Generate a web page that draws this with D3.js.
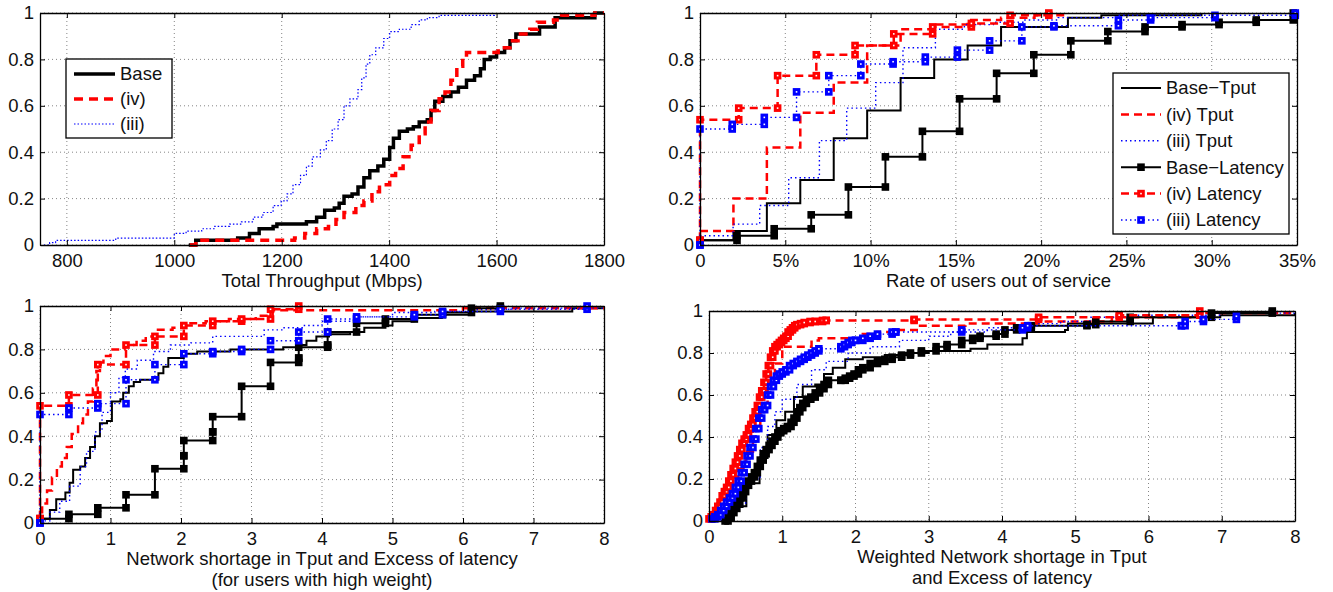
<!DOCTYPE html>
<html>
<head>
<meta charset="utf-8">
<script src="https://cdn.jsdelivr.net/npm/d3@7"></script>
<style>
  body { margin: 0; background: #fff; }
  svg { font-family: "Liberation Sans", Arial, Helvetica, sans-serif; }
</style>
</head>
<body>
<svg id="chart" width="1333" height="592"></svg>
<script>
// ---- shared ----
var yTicks = [0, 0.2, 0.4, 0.6, 0.8, 1];
var yTickLabels = ['0', '0.2', '0.4', '0.6', '0.8', '1'];
var legendNames = ['Base\u2212Tput', '(iv) Tput', '(iii) Tput', 'Base\u2212Latency', '(iv) Latency', '(iii) Latency'];

// ---- panel A: total throughput (Mbps) ----
var thrTicks = [800, 1000, 1200, 1400, 1600, 1800];
var thrNames = ['Base', '(iv)', '(iii)'];
var thrBaseX = [1027, 1040, 1118, 1140, 1158, 1184, 1191, 1246, 1265, 1280, 1298, 1307, 1316, 1331, 1342, 1353, 1364, 1379, 1390, 1401, 1408, 1419, 1434, 1445, 1456, 1471, 1478, 1485, 1500, 1515, 1529, 1544, 1559, 1570, 1577, 1588, 1600, 1615, 1625, 1636, 1680, 1709, 1783, 1800];
var thrBaseY = [0, 0.02, 0.03, 0.05, 0.07, 0.08, 0.09, 0.10, 0.12, 0.15, 0.16, 0.18, 0.21, 0.22, 0.25, 0.29, 0.32, 0.34, 0.37, 0.42, 0.46, 0.49, 0.50, 0.51, 0.53, 0.54, 0.58, 0.62, 0.64, 0.66, 0.68, 0.71, 0.73, 0.76, 0.80, 0.81, 0.83, 0.85, 0.88, 0.91, 0.94, 0.98, 1.0, 1.0];
var thrIvX = [1029, 1040, 1224, 1243, 1265, 1287, 1301, 1316, 1338, 1353, 1368, 1382, 1401, 1412, 1426, 1441, 1456, 1467, 1478, 1493, 1504, 1515, 1526, 1537, 1544, 1603, 1625, 1640, 1662, 1676, 1706, 1721, 1783, 1800];
var thrIvY = [0, 0.02, 0.03, 0.05, 0.07, 0.08, 0.11, 0.14, 0.17, 0.19, 0.23, 0.26, 0.30, 0.33, 0.38, 0.43, 0.48, 0.53, 0.58, 0.63, 0.66, 0.71, 0.77, 0.81, 0.83, 0.85, 0.88, 0.91, 0.93, 0.96, 0.97, 0.99, 1.0, 1.0];
var thrIiiX = [757, 768, 779, 891, 1000, 1022, 1051, 1074, 1103, 1125, 1147, 1165, 1184, 1199, 1210, 1221, 1235, 1246, 1257, 1272, 1283, 1294, 1305, 1316, 1327, 1342, 1349, 1357, 1364, 1375, 1390, 1401, 1419, 1441, 1456, 1471, 1493, 1596];
var thrIiiY = [0, 0.01, 0.02, 0.03, 0.05, 0.06, 0.07, 0.08, 0.09, 0.10, 0.12, 0.14, 0.17, 0.19, 0.22, 0.26, 0.30, 0.34, 0.38, 0.41, 0.45, 0.50, 0.54, 0.60, 0.63, 0.67, 0.72, 0.78, 0.82, 0.85, 0.89, 0.92, 0.93, 0.95, 0.97, 0.98, 0.99, 1.0];

// ---- panel B: rate of users out of service (%) ----
var rateTicks = [0, 5, 10, 15, 20, 25, 30, 35];
var rateTickLabels = ['0', '5%', '10%', '15%', '20%', '25%', '30%', '35%'];
var rateBaseTputX = [0, 1.96, 3.92, 5.88, 7.84, 9.80, 11.76, 13.73, 15.69, 17.65, 21.57, 23.53, 29.4];
var rateBaseTputY = [0.02, 0.06, 0.18, 0.28, 0.46, 0.58, 0.72, 0.80, 0.86, 0.94, 0.98, 0.99, 1.0];
var rateIvTputX = [0, 1.96, 3.92, 5.88, 7.84, 9.80, 11.76, 13.73, 15.69, 17.65, 19.61, 21.57];
var rateIvTputY = [0.06, 0.20, 0.42, 0.57, 0.70, 0.86, 0.93, 0.95, 0.97, 0.98, 0.99, 1.0];
var rateIiiTputX = [0, 1.94, 3.5, 5.2, 7.0, 8.6, 10.3, 11.9, 13.8, 15.5, 17.2, 19.0, 21.0, 24.5, 30.0];
var rateIiiTputY = [0.04, 0.09, 0.17, 0.29, 0.45, 0.59, 0.70, 0.85, 0.93, 0.95, 0.96, 0.97, 0.98, 0.99, 1.0];
var rateBaseLatX = [0, 2.17, 4.35, 6.52, 8.70, 10.87, 13.04, 15.22, 17.39, 19.57, 21.74, 23.91, 26.09, 28.26, 30.43, 32.61, 34.78];
var rateBaseLatY = [0.02, 0.04, 0.07, 0.13, 0.25, 0.38, 0.49, 0.63, 0.74, 0.82, 0.88, 0.92, 0.94, 0.95, 0.96, 0.97, 1.0];
var rateIvLatX = [0, 0, 2.27, 4.55, 6.82, 9.09, 11.36, 13.64, 15.91, 18.18, 20.45];
var rateIvLatY = [0.02, 0.54, 0.59, 0.73, 0.82, 0.86, 0.91, 0.94, 0.955, 0.99, 1.0];
var rateIiiLatX = [0, 0, 1.89, 3.77, 5.66, 7.55, 9.43, 11.32, 13.21, 15.09, 16.98, 18.87, 20.75, 24.53, 26.42, 30.19, 34.9];
var rateIiiLatY = [0, 0.50, 0.52, 0.55, 0.66, 0.73, 0.78, 0.79, 0.81, 0.84, 0.88, 0.94, 0.945, 0.97, 0.98, 0.99, 1.0];

// ---- panel C: network shortage, high-weight users ----
var shortTicks = [0, 1, 2, 3, 4, 5, 6, 7, 8];
var hwBaseTputX = [0, 0.14, 0.23, 0.36, 0.42, 0.47, 0.57, 0.64, 0.71, 0.78, 0.85, 0.95, 1.02, 1.14, 1.18, 1.26, 1.33, 1.42, 1.68, 1.75, 1.82, 1.94, 2.04, 2.23, 2.7, 3.45, 3.64, 3.78, 3.92, 4.1, 4.4, 4.6, 4.9, 5.0, 5.3, 5.7, 6.1, 7.55, 8];
var hwBaseTputY = [0.02, 0.06, 0.11, 0.14, 0.185, 0.245, 0.26, 0.30, 0.35, 0.40, 0.46, 0.47, 0.56, 0.57, 0.60, 0.63, 0.65, 0.66, 0.69, 0.72, 0.76, 0.76, 0.78, 0.79, 0.80, 0.81, 0.82, 0.84, 0.86, 0.87, 0.88, 0.90, 0.91, 0.93, 0.945, 0.96, 0.975, 0.99, 0.99];
var hwIvTputX = [0, 0.03, 0.1, 0.17, 0.24, 0.31, 0.38, 0.45, 0.54, 0.61, 0.68, 0.75, 0.8, 0.85, 0.9, 1.0, 1.2, 1.37, 1.5, 1.64, 1.88, 2.07, 2.35, 2.68, 3.06, 3.3, 6.0, 8];
var hwIvTputY = [0.05, 0.09, 0.15, 0.21, 0.26, 0.30, 0.35, 0.41, 0.46, 0.50, 0.56, 0.62, 0.70, 0.74, 0.77, 0.80, 0.82, 0.84, 0.86, 0.89, 0.90, 0.92, 0.93, 0.94, 0.955, 0.98, 0.99, 0.99];
var hwIiiTputX = [0, 0.14, 0.28, 0.42, 0.57, 0.66, 0.78, 0.88, 1.0, 1.12, 1.21, 1.38, 1.61, 1.85, 2.14, 2.45, 3.18, 3.45, 3.74, 4.0, 4.5, 5.0, 5.6, 6.1, 6.7, 8];
var hwIiiTputY = [0.01, 0.05, 0.10, 0.17, 0.26, 0.33, 0.42, 0.51, 0.60, 0.67, 0.71, 0.75, 0.79, 0.82, 0.83, 0.86, 0.89, 0.90, 0.91, 0.93, 0.95, 0.97, 0.975, 0.985, 0.99, 0.99];
var hwBaseLatX = [0, 0.41, 0.82, 1.22, 1.63, 2.04, 2.04, 2.45, 2.45, 2.86, 3.27, 3.67, 3.67, 4.08, 4.08, 4.49, 4.9, 5.31, 5.71, 6.12, 6.53];
var hwBaseLatY = [0.02, 0.04, 0.07, 0.13, 0.25, 0.31, 0.38, 0.42, 0.49, 0.63, 0.74, 0.76, 0.81, 0.82, 0.88, 0.92, 0.94, 0.96, 0.97, 0.99, 1.0];
var hwIvLatX = [0, 0, 0.41, 0.82, 1.22, 1.63, 2.04, 2.45, 2.86, 3.27, 3.67];
var hwIvLatY = [0.02, 0.54, 0.59, 0.73, 0.82, 0.86, 0.91, 0.93, 0.94, 0.985, 1.0];
var hwIiiLatX = [0, 0, 0.41, 0.82, 1.22, 1.63, 2.04, 2.45, 2.86, 3.27, 3.67, 4.08, 4.49, 5.31, 5.71, 6.53, 7.76];
var hwIiiLatY = [0, 0.50, 0.53, 0.55, 0.66, 0.73, 0.78, 0.79, 0.80, 0.84, 0.88, 0.94, 0.95, 0.96, 0.975, 0.985, 1.0];

// ---- panel D: weighted network shortage ----
var wBaseTputX = [0.16, 0.34, 0.51, 0.69, 0.8, 0.92, 1.04, 1.16, 1.28, 1.45, 1.57, 1.69, 1.86, 2.1, 2.4, 2.63, 3.0, 3.57, 3.8, 4.28, 4.34, 4.86, 4.9, 6.04, 6.06, 6.98, 8];
var wBaseTputY = [0, 0.07, 0.18, 0.30, 0.41, 0.48, 0.52, 0.59, 0.64, 0.65, 0.70, 0.73, 0.77, 0.78, 0.79, 0.80, 0.81, 0.82, 0.84, 0.87, 0.90, 0.91, 0.94, 0.94, 0.97, 0.98, 0.99];
var wIvTputX = [0, 0.1, 0.2, 0.3, 0.4, 0.5, 0.6, 0.7, 0.8, 0.9, 1.0, 1.4, 1.5, 2.1, 2.3, 2.5, 2.86, 3.5, 4.5, 5.5, 6.7, 8];
var wIvTputY = [0.01, 0.04, 0.10, 0.17, 0.25, 0.33, 0.43, 0.55, 0.65, 0.75, 0.83, 0.86, 0.87, 0.89, 0.90, 0.91, 0.93, 0.94, 0.95, 0.97, 0.99, 0.99];
var wIiiTputX = [0, 0.3, 0.5, 0.7, 0.8, 0.9, 1.0, 1.2, 1.4, 1.6, 1.9, 2.2, 2.6, 3.0, 3.3, 3.8, 4.3, 4.8, 5.2, 5.8, 7.0, 8];
var wIiiTputY = [0, 0.08, 0.20, 0.35, 0.45, 0.52, 0.58, 0.65, 0.72, 0.76, 0.80, 0.83, 0.86, 0.88, 0.90, 0.92, 0.94, 0.95, 0.97, 0.98, 0.99, 0.99];
var wBaseLatX = [0.22, 0.26, 0.3, 0.34, 0.38, 0.42, 0.46, 0.5, 0.54, 0.58, 0.62, 0.66, 0.7, 0.74, 0.78, 0.82, 0.86, 0.9, 0.94, 0.98, 1.02, 1.07, 1.12, 1.16, 1.2, 1.24, 1.28, 1.33, 1.39, 1.45, 1.51, 1.57, 1.63, 1.8, 1.86, 1.92, 1.98, 2.04, 2.1, 2.2, 2.3, 2.4, 2.5, 2.63, 2.75, 2.9, 3.1, 3.25, 3.45, 3.6, 3.7, 3.92, 4.04, 4.2, 4.4, 5.16, 5.28, 5.75, 6.86, 7.69];
var wBaseLatY = [0, 0.02, 0.04, 0.06, 0.08, 0.11, 0.14, 0.17, 0.19, 0.21, 0.23, 0.26, 0.29, 0.32, 0.34, 0.36, 0.38, 0.40, 0.42, 0.43, 0.44, 0.45, 0.47, 0.49, 0.52, 0.54, 0.56, 0.58, 0.59, 0.61, 0.63, 0.65, 0.67, 0.67, 0.68, 0.69, 0.70, 0.72, 0.73, 0.75, 0.76, 0.77, 0.78, 0.79, 0.80, 0.81, 0.83, 0.84, 0.86, 0.87, 0.88, 0.89, 0.91, 0.92, 0.93, 0.935, 0.95, 0.97, 0.99, 1.0];
var wIvLatX = [0, 0.03, 0.06, 0.09, 0.12, 0.15, 0.18, 0.21, 0.24, 0.27, 0.3, 0.33, 0.36, 0.39, 0.42, 0.45, 0.48, 0.51, 0.54, 0.57, 0.6, 0.63, 0.66, 0.69, 0.72, 0.75, 0.78, 0.81, 0.84, 0.87, 0.9, 0.93, 0.96, 0.99, 1.02, 1.05, 1.08, 1.11, 1.14, 1.17, 1.2, 1.25, 1.3, 1.38, 1.45, 1.55, 1.6, 2.8, 4.5, 5.6, 6.7];
var wIvLatY = [0.01, 0.02, 0.03, 0.05, 0.07, 0.09, 0.12, 0.14, 0.16, 0.19, 0.22, 0.25, 0.28, 0.31, 0.34, 0.37, 0.39, 0.41, 0.44, 0.46, 0.49, 0.52, 0.55, 0.59, 0.62, 0.66, 0.70, 0.74, 0.78, 0.81, 0.83, 0.84, 0.85, 0.86, 0.87, 0.88, 0.90, 0.91, 0.92, 0.93, 0.935, 0.94, 0.945, 0.95, 0.95, 0.955, 0.955, 0.96, 0.97, 0.98, 1.0];
var wIiiLatX = [0.04, 0.08, 0.12, 0.16, 0.2, 0.24, 0.28, 0.32, 0.36, 0.4, 0.44, 0.48, 0.52, 0.56, 0.6, 0.64, 0.68, 0.72, 0.76, 0.8, 0.84, 0.88, 0.92, 0.96, 1.0, 1.05, 1.1, 1.15, 1.2, 1.25, 1.3, 1.35, 1.4, 1.45, 1.5, 1.8, 1.85, 1.9, 1.95, 2.0, 2.1, 2.2, 2.3, 2.5, 2.55, 3.45, 4.28, 4.35, 6.45, 6.5, 6.75, 7.2];
var wIiiLatY = [0.01, 0.02, 0.03, 0.05, 0.07, 0.09, 0.11, 0.13, 0.16, 0.19, 0.23, 0.27, 0.31, 0.35, 0.39, 0.44, 0.49, 0.53, 0.55, 0.60, 0.64, 0.67, 0.69, 0.70, 0.71, 0.72, 0.74, 0.75, 0.76, 0.77, 0.78, 0.79, 0.80, 0.81, 0.82, 0.83, 0.84, 0.85, 0.86, 0.86, 0.87, 0.88, 0.89, 0.90, 0.90, 0.91, 0.92, 0.93, 0.93, 0.95, 0.96, 0.975];

var svg = d3.select('#chart');

var styleBase = { color: '#000', width: 2, dash: null };
var styleIv = { color: '#ff0000', width: 2.5, dash: '8,5' };
var styleIii = { color: '#0000ff', width: 1.4, dash: '1.5,3' };

function drawMarker(sel, cx, cy, color) {
    sel.append('rect')
        .attr('x', cx - 2.3).attr('y', cy - 2.3)
        .attr('width', 4.6).attr('height', 4.6)
        .attr('fill', color === '#000' ? '#000' : '#fff')
        .attr('stroke', color)
        .attr('stroke-width', 3);
}

function drawPanel(p) {
    var x = d3.scaleLinear().domain(p.xDomain).range([p.left, p.right]);
    var y = d3.scaleLinear().domain([0, 1]).range([p.bottom, p.top]);
    var g = svg.append('g');

    // dotted grid
    g.append('g').selectAll('line')
        .data(p.xTicks)
        .enter().append('line')
        .attr('x1', function (d) { return x(d); })
        .attr('x2', function (d) { return x(d); })
        .attr('y1', p.top).attr('y2', p.bottom)
        .attr('stroke', '#666').attr('stroke-width', 0.8)
        .attr('stroke-dasharray', '1,3');
    g.append('g').selectAll('line')
        .data(yTicks)
        .enter().append('line')
        .attr('y1', function (d) { return y(d); })
        .attr('y2', function (d) { return y(d); })
        .attr('x1', p.left).attr('x2', p.right)
        .attr('stroke', '#666').attr('stroke-width', 0.8)
        .attr('stroke-dasharray', '1,3');

    // curves (step CDFs)
    var line = d3.line()
        .x(function (d) { return x(d[0]); })
        .y(function (d) { return y(d[1]); })
        .curve(d3.curveStepAfter);

    p.series.forEach(function (s) {
        var pts = d3.zip(s.x, s.y);
        g.append('path')
            .datum(pts)
            .attr('d', line)
            .attr('fill', 'none')
            .attr('stroke', s.style.color)
            .attr('stroke-width', s.style.width)
            .attr('stroke-dasharray', s.style.dash);
        if (s.marker) {
            var mg = g.append('g');
            pts.forEach(function (d, i) {
                if (i > 0) drawMarker(mg, x(d[0]), y(pts[i - 1][1]), s.style.color);
                drawMarker(mg, x(d[0]), y(d[1]), s.style.color);
            });
        }
    });

    // axes
    var xAxis = g.append('g')
        .attr('transform', 'translate(0,' + p.bottom + ')')
        .call(d3.axisBottom(x).tickValues(p.xTicks)
            .tickFormat(function (d, i) { return p.xTickLabels[i]; })
            .tickSizeInner(-5).tickSizeOuter(0).tickPadding(9));
    var yAxis = g.append('g')
        .attr('transform', 'translate(' + p.left + ',0)')
        .call(d3.axisLeft(y).tickValues(yTicks)
            .tickFormat(function (d, i) { return yTickLabels[i]; })
            .tickSizeInner(-5).tickSizeOuter(0).tickPadding(6));
    g.append('g')
        .attr('transform', 'translate(0,' + p.top + ')')
        .call(d3.axisTop(x).tickValues(p.xTicks).tickFormat('').tickSizeInner(-5).tickSizeOuter(0));
    g.append('g')
        .attr('transform', 'translate(' + p.right + ',0)')
        .call(d3.axisRight(y).tickValues(yTicks).tickFormat('').tickSizeInner(-5).tickSizeOuter(0));

    g.selectAll('.domain').attr('stroke', '#000').attr('stroke-width', 1.3);
    g.selectAll('.tick line').attr('stroke', '#000');
    [xAxis, yAxis].forEach(function (a) {
        a.selectAll('text')
            .attr('fill', '#111')
            .style('font-size', '18.5px')
            .style('font-family', '"Liberation Sans", Arial, sans-serif');
    });

    // x label (1 or 2 lines)
    p.xLabel.forEach(function (t, i) {
        g.append('text')
            .attr('x', (p.left + p.right) / 2)
            .attr('y', p.bottom + 42 + i * 21)
            .attr('text-anchor', 'middle')
            .attr('fill', '#111')
            .style('font-size', '18.5px')
            .text(t);
    });

    // legend
    if (p.legend) {
        var L = p.legend;
        var lg = g.append('g');
        lg.append('rect')
            .attr('x', L.x).attr('y', L.y)
            .attr('width', L.w).attr('height', L.h)
            .attr('fill', '#fff').attr('stroke', '#000').attr('stroke-width', 1.3);
        L.items.forEach(function (it, i) {
            var yy = L.y + L.first + i * L.step;
            lg.append('line')
                .attr('x1', L.x + 8).attr('x2', L.x + 8 + L.sample)
                .attr('y1', yy).attr('y2', yy)
                .attr('stroke', it.style.color)
                .attr('stroke-width', it.style.width)
                .attr('stroke-dasharray', it.style.dash);
            if (it.marker) drawMarker(lg, L.x + 8 + L.sample / 2, yy, it.style.color);
            lg.append('text')
                .attr('x', L.x + 8 + L.sample + 5)
                .attr('y', yy)
                .attr('dy', '0.35em')
                .attr('fill', '#111')
                .style('font-size', '18.5px')
                .text(it.name);
        });
    }
}

// ---- top left ----
var thickBase = { color: '#000', width: 3.5, dash: null };
var thickIv = { color: '#ff0000', width: 3.5, dash: '9,6' };
var thinIii = { color: '#0000ff', width: 1.2, dash: '1.5,2' };
drawPanel({
    left: 40, right: 604, top: 13, bottom: 245,
    xDomain: [750, 1800], xTicks: thrTicks,
    xTickLabels: thrTicks.map(String),
    xLabel: ['Total Throughput (Mbps)'],
    series: [
        { x: thrBaseX, y: thrBaseY, style: thickBase },
        { x: thrIvX, y: thrIvY, style: thickIv },
        { x: thrIiiX, y: thrIiiY, style: thinIii }
    ],
    legend: {
        x: 66, y: 59, w: 106, h: 79, first: 15, step: 25, sample: 41,
        items: [
            { name: thrNames[0], style: thickBase },
            { name: thrNames[1], style: thickIv },
            { name: thrNames[2], style: thinIii }
        ]
    }
});

// ---- top right ----
drawPanel({
    left: 700, right: 1297, top: 13, bottom: 245,
    xDomain: [0, 35], xTicks: rateTicks, xTickLabels: rateTickLabels,
    xLabel: ['Rate of users out of service'],
    series: [
        { x: rateBaseTputX, y: rateBaseTputY, style: styleBase },
        { x: rateIvTputX, y: rateIvTputY, style: styleIv },
        { x: rateIiiTputX, y: rateIiiTputY, style: styleIii },
        { x: rateBaseLatX, y: rateBaseLatY, style: styleBase, marker: true },
        { x: rateIvLatX, y: rateIvLatY, style: styleIv, marker: true },
        { x: rateIiiLatX, y: rateIiiLatY, style: styleIii, marker: true }
    ],
    legend: {
        x: 1113, y: 73, w: 176, h: 161, first: 15, step: 26.4, sample: 40,
        items: legendNames.map(function (n, i) {
            return { name: n, style: [styleBase, styleIv, styleIii][i % 3], marker: i >= 3 };
        })
    }
});

// ---- bottom left ----
drawPanel({
    left: 40, right: 604, top: 306, bottom: 523,
    xDomain: [0, 8], xTicks: shortTicks, xTickLabels: shortTicks.map(String),
    xLabel: ['Network shortage in Tput and Excess of latency', '(for users with high weight)'],
    series: [
        { x: hwBaseTputX, y: hwBaseTputY, style: styleBase },
        { x: hwIvTputX, y: hwIvTputY, style: styleIv },
        { x: hwIiiTputX, y: hwIiiTputY, style: styleIii },
        { x: hwBaseLatX, y: hwBaseLatY, style: styleBase, marker: true },
        { x: hwIvLatX, y: hwIvLatY, style: styleIv, marker: true },
        { x: hwIiiLatX, y: hwIiiLatY, style: styleIii, marker: true }
    ]
});

// ---- bottom right ----
drawPanel({
    left: 709, right: 1295, top: 311, bottom: 521,
    xDomain: [0, 8], xTicks: shortTicks, xTickLabels: shortTicks.map(String),
    xLabel: ['Weighted Network shortage in Tput', 'and Excess of latency'],
    series: [
        { x: wBaseTputX, y: wBaseTputY, style: styleBase },
        { x: wIvTputX, y: wIvTputY, style: styleIv },
        { x: wIiiTputX, y: wIiiTputY, style: styleIii },
        { x: wBaseLatX, y: wBaseLatY, style: styleBase, marker: true },
        { x: wIvLatX, y: wIvLatY, style: styleIv, marker: true },
        { x: wIiiLatX, y: wIiiLatY, style: styleIii, marker: true }
    ]
});
</script>
</body>
</html>
